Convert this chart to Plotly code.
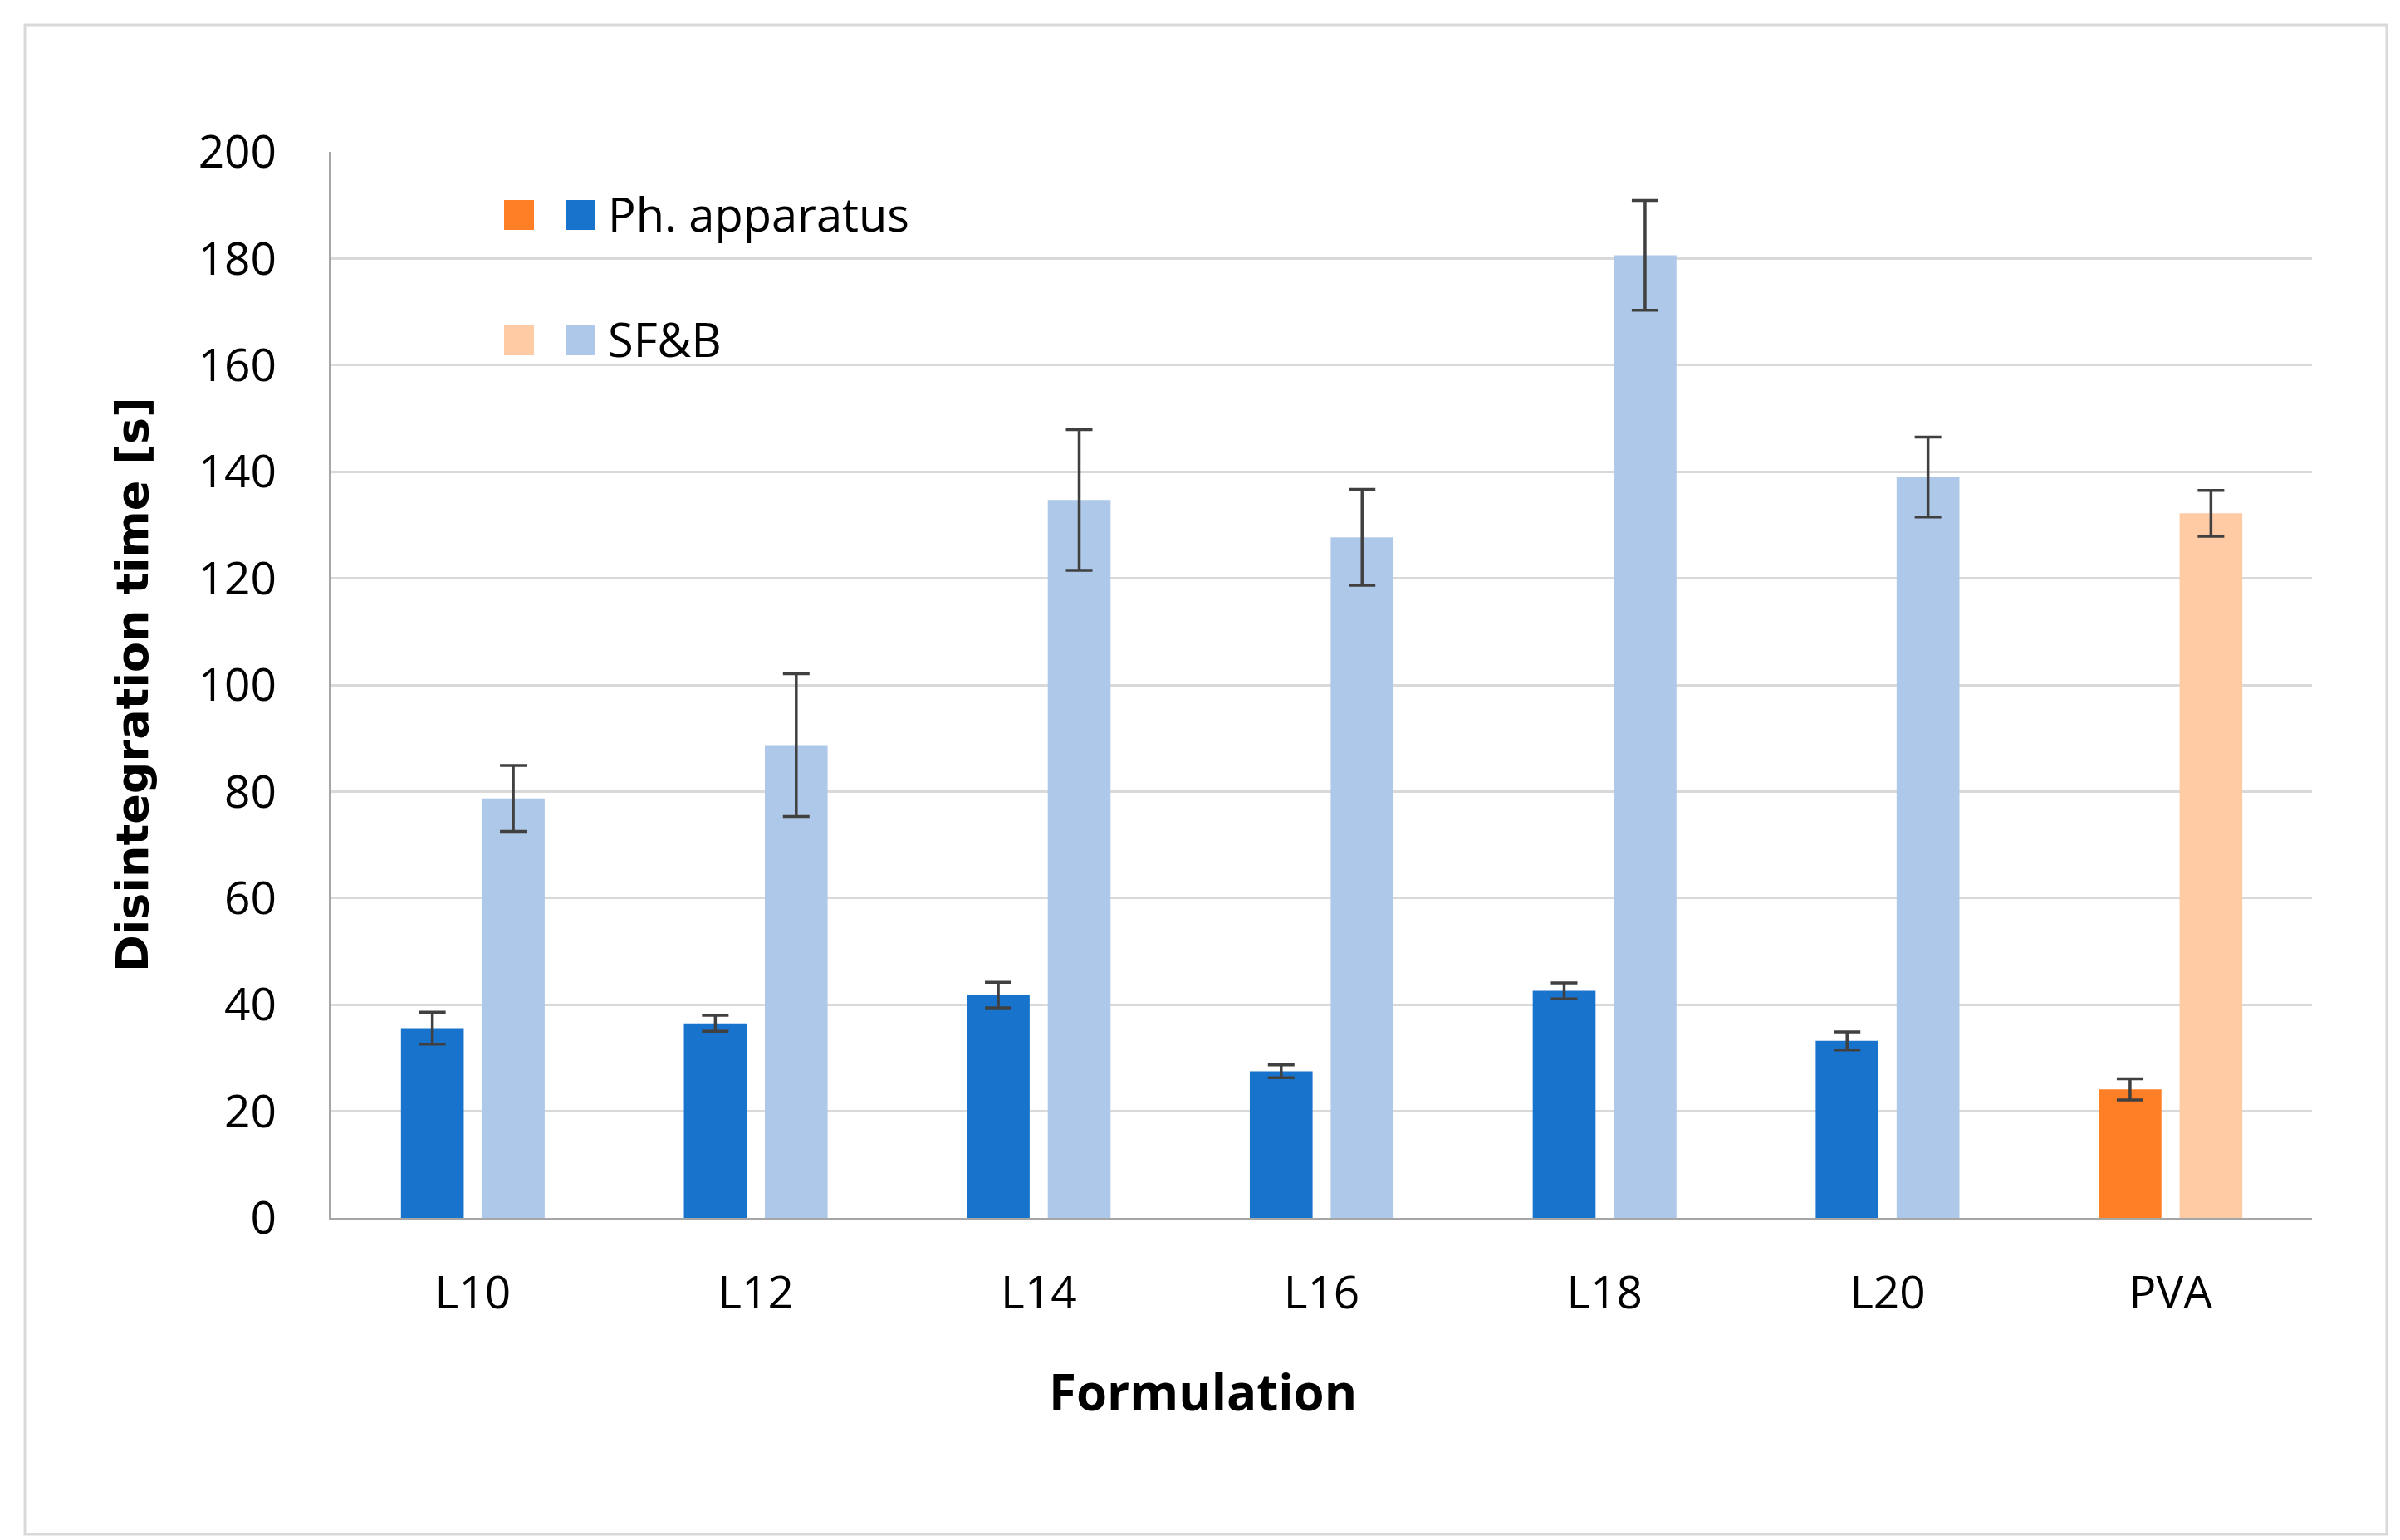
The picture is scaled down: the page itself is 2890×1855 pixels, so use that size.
import plotly.graph_objects as go

categories = ["L10", "L12", "L14", "L16", "L18", "L20", "PVA"]
ph_values = [35.6, 36.5, 41.8, 27.5, 42.6, 33.2, 24.1]
ph_errors = [3.0, 1.5, 2.4, 1.2, 1.5, 1.7, 2.0]
sfb_values = [78.7, 88.7, 134.7, 127.7, 180.6, 139.0, 132.2]
sfb_errors = [6.2, 13.4, 13.2, 9.0, 10.3, 7.5, 4.3]
y_ticks = [0, 20, 40, 60, 80, 100, 120, 140, 160, 180, 200]

BLUE = "#1873CC"
LIGHT_BLUE = "#AEC8E9"
ORANGE = "#FF7F27"
LIGHT_ORANGE = "#FFCBA5"

ph_colors = [ORANGE if c == "PVA" else BLUE for c in categories]
sfb_colors = [LIGHT_ORANGE if c == "PVA" else LIGHT_BLUE for c in categories]

FONT_FAMILY = "Liberation Sans Narrow, Open Sans, Noto Sans"
TICK_FONT = dict(family=FONT_FAMILY, size=55, color="black")

err_style = dict(type="data", color="#404040", thickness=3.5, width=16, visible=True)

fig = go.Figure()
fig.add_trace(go.Bar(
    x=categories, y=ph_values, name="Ph. apparatus",
    marker=dict(color=ph_colors, line=dict(width=0)),
    width=0.222, offset=-0.254,
    error_y=dict(array=ph_errors, **err_style),
    showlegend=False,
))
fig.add_trace(go.Bar(
    x=categories, y=sfb_values, name="SF&B",
    marker=dict(color=sfb_colors, line=dict(width=0)),
    width=0.222, offset=0.032,
    error_y=dict(array=sfb_errors, **err_style),
    showlegend=False,
))

W, H = 2890, 1855
PL, PR, PT, PB = 391, 2776, 175, 1459


def px(x):
    return (x - PL) / (PR - PL)


def py(y):
    return (PB - y) / (PB - PT)


# Legend (two swatches per entry, as in the reference)
legend_rows = [("Ph. apparatus", ORANGE, BLUE, 0), ("SF&B", LIGHT_ORANGE, LIGHT_BLUE, 1)]
for text, c1, c2, i in legend_rows:
    y0 = 233 + i * 151
    y1 = y0 + 36
    for (xa, xb, col) in [(599, 635, c1), (673, 709, c2)]:
        fig.add_shape(type="rect", xref="paper", yref="paper",
                      x0=px(xa), x1=px(xb), y0=py(y1), y1=py(y0),
                      fillcolor=col, line=dict(width=0))
    fig.add_annotation(text=text, xref="paper", yref="paper",
                       x=px(722), y=py(y0 + 16),
                       xanchor="left", yanchor="middle", showarrow=False,
                       font=dict(family=FONT_FAMILY, size=56, color="black"))

# Outer border of the chart
fig.add_shape(type="rect", xref="paper", yref="paper",
              x0=px(22), x1=px(2866), y0=py(1840), y1=py(22),
              line=dict(color="#D9D9D9", width=3), fillcolor="rgba(0,0,0,0)", layer="below")

# X-axis title centered on the whole figure
fig.add_annotation(text="<b>Formulation</b>", xref="paper", yref="paper",
                   x=px(1440), y=py(1668),
                   xanchor="center", yanchor="middle", showarrow=False,
                   font=dict(family=FONT_FAMILY, size=60, color="black"))

# Y-axis title
fig.add_annotation(text="<b>Disintegration time [s]</b>", xref="paper", yref="paper",
                   x=px(151), y=0.5, textangle=-90,
                   xanchor="center", yanchor="middle", showarrow=False,
                   font=dict(family="DejaVu Sans", size=54, color="black"))

fig.update_layout(
    width=W, height=H,
    margin=dict(l=PL, r=W - PR, t=PT, b=H - PB),
    paper_bgcolor="white", plot_bgcolor="white",
    barmode="overlay",
    showlegend=False,
    xaxis=dict(
        type="category", categoryorder="array", categoryarray=categories,
        range=[-0.5, 6.5],
        showgrid=False, showline=True, linecolor="#A6A6A6", linewidth=3,
        ticks="", tickfont=TICK_FONT, ticklabelstandoff=40,
    ),
    yaxis=dict(
        range=[0, 200], tickvals=y_ticks, ticktext=[str(v) for v in y_ticks],
        showgrid=True, gridcolor="#D9D9D9", gridwidth=3,
        showline=True, linecolor="#A6A6A6", linewidth=3,
        zeroline=False, ticks="", tickfont=TICK_FONT, ticklabelstandoff=52,
    ),
)

fig.write_html("out.html")
